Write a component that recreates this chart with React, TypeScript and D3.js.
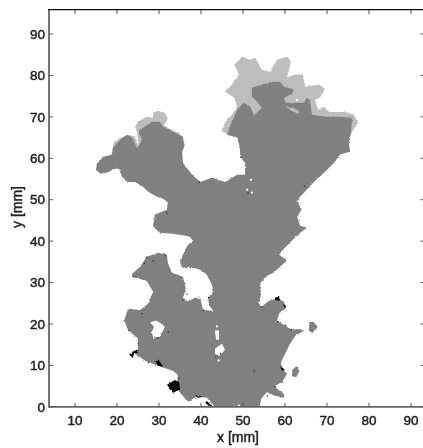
import React from "react";
import * as d3 from "d3";

type P = [number, number];

const xTicks = [10, 20, 30, 40, 50, 60, 70, 80, 90];
const yTicks = [0, 10, 20, 30, 40, 50, 60, 70, 80, 90];

const finalArea: P[] = [
  [15.2,58.7],[15.0,57.2],[16.0,56.3],[17.6,56.5],[19.5,57.5],[20.5,57.5],[21.2,55.5],[22.6,54.3],[24.3,54.3],[26.2,53.1],[27.4,51.9],[29.5,50.7],[31.0,50.2],[32.1,49.3],[31.9,47.6],[30.2,46.9],[29.0,46.4],[28.6,43.5],[30.2,42.0],[33.3,41.8],[37.4,41.1],[38.1,40.1],[36.7,38.9],[35.7,36.7],[35.0,35.0],[35.5,33.6],[37.4,33.8],[39.8,33.1],[41.4,31.9],[42.6,29.5],[42.9,27.8],[41.7,26.3],[41.9,24.6],[42.9,23.2],[40.5,23.4],[39.8,26.3],[38.6,26.3],[36.9,25.4],[35.7,26.3],[36.4,28.3],[35.7,31.4],[33.1,32.4],[32.1,34.8],[31.9,36.7],[31.0,36.9],[29.8,37.2],[27.1,36.2],[25.5,33.8],[23.6,32.1],[23.6,31.4],[27.1,30.4],[28.6,27.8],[27.4,24.9],[25.5,23.4],[22.6,23.7],[21.7,20.8],[22.6,18.6],[25.0,16.4],[25.0,14.0],[23.6,13.3],[26.7,11.1],[30.2,9.7],[33.3,8.7],[34.5,7.7],[34.3,6.0],[35.0,3.4],[36.9,1.2],[39.0,2.4],[41.4,2.2],[43.3,0],[54.0,0],[54.3,1.9],[55.7,3.6],[57.4,2.7],[59.8,2.2],[59.8,3.1],[58.1,4.3],[57.6,5.1],[59.3,6.0],[60.5,8.0],[59.8,8.7],[59.0,10.4],[59.8,12.3],[61.2,15.2],[62.4,17.1],[64.5,18.4],[63.6,18.8],[61.7,18.6],[60.0,19.6],[58.1,20.8],[58.6,22.5],[60.0,23.7],[59.8,25.4],[58.1,26.1],[56.2,25.6],[54.5,24.2],[53.8,24.9],[54.3,27.3],[54.0,29.7],[55.7,31.6],[57.6,32.6],[58.8,33.8],[60.5,35.3],[58.6,36.7],[59.8,38.2],[62.1,40.6],[64.0,42.3],[65.2,43.2],[63.6,43.7],[63.3,44.7],[62.9,45.9],[64.0,47.6],[62.9,49.5],[63.6,50.7],[66.9,54.3],[69.3,56.5],[71.7,58.9],[73.1,60.9],[75.5,61.6],[75.2,63.8],[75.7,66.2],[76.0,69.8],[73.1,70.0],[70.0,70.0],[66.4,70.5],[66.0,74.1],[65.2,74.6],[64.5,73.4],[62.4,73.4],[60.2,73.4],[59.8,74.6],[61.7,75.6],[62.1,76.6],[59.8,77.3],[58.8,78.5],[57.4,78.5],[54.5,77.8],[52.1,77.0],[52.1,74.9],[53.3,73.7],[54.5,72.2],[52.6,70.3],[51.7,72.5],[50.2,73.4],[48.6,71.7],[47.9,70.0],[46.7,67.4],[46.2,65.7],[48.6,65.0],[49.3,62.5],[49.3,60.4],[50.5,58.9],[50.5,56.0],[48.6,56.0],[47.4,55.3],[45.7,54.3],[42.6,55.3],[39.8,54.3],[37.9,56.0],[35.7,58.9],[35.5,61.6],[36.0,62.8],[35.7,65.2],[33.3,66.4],[31.0,67.6],[30.2,68.8],[28.3,68.8],[26.2,67.4],[25.0,66.4],[26.0,64.5],[24.8,62.5],[23.6,65.0],[22.4,65.7],[20.7,64.5],[19.0,62.5],[18.8,60.9],[16.7,60.4],
];

const islands: P[][] = [
  [[65.8,20.5],[66.8,20.5],[67.8,19.3],[66.4,17.7],[65.7,18.5]],
  [[61.7,8.9],[62.7,9.8],[63.5,8.8],[62.7,7.2],[61.7,7.3]],
];

const lightTop: P[] = [
  [45.0,66.4],[45.7,68.8],[47.4,70.5],[48.6,72.5],[47.9,74.6],[45.7,76.1],[47.4,77.8],[49.0,80.2],[47.9,82.6],[49.8,84.5],[51.7,83.8],[52.9,84.3],[54.5,81.4],[56.4,80.9],[58.1,83.8],[60.5,84.5],[61.4,83.3],[60.5,79.5],[62.4,80.2],[64.3,80.2],[64.8,77.3],[68.1,77.8],[69.5,76.8],[68.3,74.6],[67.1,74.1],[67.9,71.7],[69.3,72.5],[70.5,71.2],[74.3,71.2],[76.4,70.5],[77.4,68.6],[76.0,66.4],[75.5,65.2],[63.6,62],[46.9,65.7],
];
const lightWing: P[] = [
  [24.3,67.6],[25.0,68.8],[27.1,70.0],[28.6,69.8],[28.6,71.0],[29.5,71.5],[31.4,71.0],[32.1,69.6],[31.2,67.9],[33.1,66.9],[35.0,65.9],[36.2,63.3],[35.5,61.6],[30.2,62],[26.7,64.5],[25.2,62.8],[24.8,66.2],
];
const lightLeft: P[] = [
  [19.0,62],[19.3,64],[21.2,65],[22.6,65.7],[24.3,65.2],[25.2,62.8],[22,62],
];
const lightSliver: P[] = [
  [60.2,72.5],[62.0,72.2],[63.5,71.2],[63.0,70.8],[61.5,71.5],
];

const holes: P[][] = [
  [[27.9,20.5],[29.5,20.8],[31.4,19.3],[30.2,16.9],[28.6,16.7],[28.3,18.1],[28.8,19.3]],
  [[43.3,14.0],[45.0,15.2],[45.7,13.8],[44.5,12.3],[43.3,12.8]],
  [[43.3,18.4],[44.3,18.4],[44.3,16.2],[43.6,16.2]],
];
const whiteDots: P[] = [[51.0,52.4],[52.1,51.7],[51.9,54.8],[62.9,74.1],[49,0.3],[44.2,11.2],[43.8,19.4]];

const earlyArea: P[][] = [
  [[31.9,5.3],[33.8,6.5],[34.8,6.0],[35.0,4.1],[33.3,3.4]],
  [[22.9,12.6],[23.8,13.3],[25.0,13.8],[25.0,13.0],[24.0,12.8],[23.8,11.8]],
  [[29.0,10.9],[29.8,11.4],[31.0,9.7],[29.8,9.9]],
  [[38.6,2.7],[40.5,2.4],[39.3,2.2]],
  [[41.4,1.4],[42.6,0.2],[42.1,0],[41.0,1.0]],
  [[57.6,26.3],[58.6,26.6],[58.8,25.6],[57.6,25.8]],
  [[59.5,24.9],[60.2,24.4],[60.0,23.7]],
  [[58.8,9.9],[60,8.9],[59.3,8.7]],
];
const blackDots: P[] = [
  [27.1,36.1],[28.6,35.2],[24,31.4],[26.5,34.6],[36.2,29.8],[36.7,27.2],[35.7,25.8],[40.6,23.3],[41.8,26.4],[37.5,33.6],[39.6,54.2],[31.5,36.6],[22.8,18.4],[25,15.2],[27.5,10.7],[26,22.5],[29.8,16.6],[32.2,18],[34.8,6.9],[61.5,18.6],[60.1,19.7],[54.5,24.1],[58.3,20.5],[44.7,12.9],[43.5,12],[57.6,4.9],[55.8,2.6],[31.9,46.8],[51.2,51.6],[64.6,53.3],[52.7,8.7],
];

const W = 423, H = 448;
const x = d3.scaleLinear().domain([3.81, 92.86]).range([49, 423]);
const y = d3.scaleLinear().domain([0, 95.8]).range([406.8, 10]);
const line = d3.line<P>().x((d) => x(d[0])).y((d) => y(d[1])).curve(d3.curveLinearClosed);

export default function App() {
  const font = "'Liberation Sans', Arial, sans-serif";
  const textProps = { fontFamily: font, fill: "#222", stroke: "#222", strokeWidth: 0.45 };
  return (
    <svg width={W} height={H} viewBox={`0 0 ${W} ${H}`} style={{ position: "absolute", left: 0, top: 0, background: "#fff" }}>
      <defs>
        <filter id="rough" x="-5%" y="-5%" width="110%" height="110%">
          <feTurbulence type="fractalNoise" baseFrequency="0.55" numOctaves="1" seed="4" result="n" />
          <feDisplacementMap in="SourceGraphic" in2="n" scale="2.6" xChannelSelector="R" yChannelSelector="G" />
          <feGaussianBlur stdDeviation="0.4" />
        </filter>
        <filter id="soft"><feGaussianBlur stdDeviation="0.35" /></filter>
        <clipPath id="plot"><rect x={x.range()[0]} y={y.range()[1]} width={374} height={396.8} /></clipPath>
      </defs>
      <g clipPath="url(#plot)">
        <g filter="url(#rough)">
          <path d={line(lightTop) ?? ""} fill="#bdbdbd" />
          <path d={line(lightWing) ?? ""} fill="#bdbdbd" />
          <path d={line(lightLeft) ?? ""} fill="#bdbdbd" />
          <path d={line(finalArea) ?? ""} fill="#808080" />
          {islands.map((p, i) => <path key={i} d={line(p) ?? ""} fill="#808080" />)}
          <path d={line(lightSliver) ?? ""} fill="#bdbdbd" />
          {earlyArea.map((p, i) => <path key={i} d={line(p) ?? ""} fill="#000" />)}
          {holes.map((p, i) => <path key={i} d={line(p) ?? ""} fill="#fff" />)}
        </g>
        <g filter="url(#soft)">
          {blackDots.map((d, i) => <circle key={i} cx={x(d[0])} cy={y(d[1])} r={0.7} fill="#222" />)}
          {whiteDots.map((d, i) => <circle key={i} cx={x(d[0])} cy={y(d[1])} r={1.1} fill="#fff" />)}
        </g>
      </g>
      <g filter="url(#soft)">
        <line x1={x.range()[0]} x2={W} y1={y(0)} y2={y(0)} stroke="#666" strokeWidth={1.8} />
        <line x1={x.range()[0]} x2={x.range()[0]} y1={9} y2={y(0) + 1} stroke="#666" strokeWidth={1.8} />
        <line x1={48} x2={W} y1={9.6} y2={9.6} stroke="#111" strokeWidth={1.4} />
        {xTicks.map((t) => (
          <g key={t}>
            <line x1={x(t)} x2={x(t)} y1={y(0)} y2={y(0) - 4} stroke="#555" />
            <line x1={x(t)} x2={x(t)} y1={10} y2={14} stroke="#555" />
            <text x={x(t)} y={420} dy="0.35em" textAnchor="middle" fontSize={13.5} {...textProps}>{t}</text>
          </g>
        ))}
        {yTicks.map((t) => (
          <g key={t}>
            <line x1={49} x2={53} y1={y(t)} y2={y(t)} stroke="#555" />
            <line x1={420.5} x2={W} y1={y(t)} y2={y(t)} stroke="#555" />
            <text x={45} y={y(t)} dy="0.35em" textAnchor="end" fontSize={13.5} {...textProps}>{t}</text>
          </g>
        ))}
        <text x={238} y={437} dy="0.35em" textAnchor="middle" fontSize={14} {...textProps}>x [mm]</text>
        <text transform="translate(17,207) rotate(-90)" dy="0.35em" textAnchor="middle" fontSize={14} {...textProps}>y [mm]</text>
      </g>
    </svg>
  );
}
